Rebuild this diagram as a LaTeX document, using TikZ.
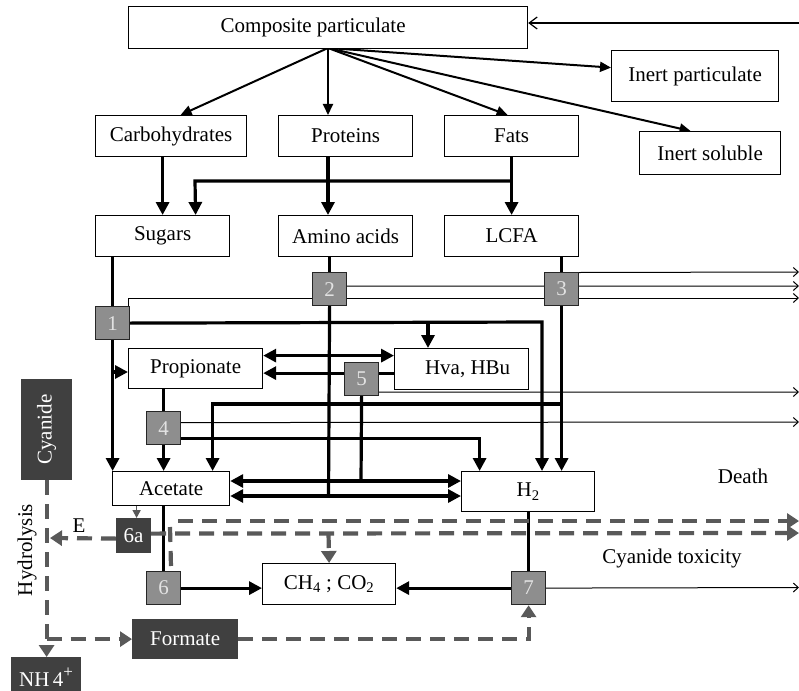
\documentclass[tikz,border=0pt]{standalone}
\usepackage{fontspec}
\setmainfont{Liberation Serif}
\usetikzlibrary{arrows.meta,calc}
\pgfdeclarelayer{bg}
\pgfsetlayers{bg,main}
\definecolor{numfill}{HTML}{8E8E8E}
\definecolor{darkfill}{HTML}{404040}
\definecolor{dashcol}{HTML}{595959}
\definecolor{numtext}{HTML}{E2E2E2}
\begin{document}
\begin{tikzpicture}[x=1pt,y=-1pt,
  font=\fontsize{21}{25}\selectfont,
  box/.style={draw, line width=1.2pt, fill=white, inner sep=0pt, anchor=north west},
  numbox/.style={draw=black!85, fill=numfill, line width=1.2pt, inner sep=0pt,
    minimum width=34pt, minimum height=33pt, text=numtext, anchor=north west},
  darkbox/.style={draw=black!75, fill=darkfill, line width=1.2pt, inner sep=0pt,
    text=white, anchor=north west},
  thk/.style={line width=3.2pt},
  thka/.style={line width=3.2pt, -{Triangle[length=13pt,width=13pt]}},
  thkaa/.style={line width=3.2pt, {Triangle[length=13pt,width=13pt]}-{Triangle[length=13pt,width=13pt]}},
  toparr/.style={line width=2pt, -{Triangle[length=11pt,width=10pt]}},
  thinarr/.style={line width=1pt, -{Straight Barb[length=5pt,width=9pt]}},
  dsh/.style={draw=dashcol, line width=4.2pt, dash pattern=on 15pt off 9pt},
  dsha/.style={dsh, -{Triangle[length=12pt,width=15pt]}, color=dashcol},
  lbl/.style={inner sep=0pt}
]
\useasboundingbox (0,0) rectangle (799,690);

% ---------- boxes ----------
\node[box, minimum width=399pt, minimum height=42pt] (comp) at (128,6) {\hspace*{-30pt}Composite particulate};
\node[box, minimum width=167pt, minimum height=51pt] (inpart) at (611,50) {Inert particulate};
\node[box, minimum width=141pt, minimum height=43pt] (insol) at (639,131) {Inert soluble};
\node[box, minimum width=151pt, minimum height=41pt] (carb) at (95,115) {Carbohydrates};
\node[box, minimum width=134pt, minimum height=41pt] (prot) at (278,115) {Proteins};
\node[box, minimum width=134pt, minimum height=41pt] (fats) at (444,115) {Fats};
\node[box, minimum width=134pt, minimum height=41pt] (sugars) at (95,215) {Sugars};
\node[box, minimum width=134pt, minimum height=41pt] (amino) at (278,215) {Amino acids};
\node[box, minimum width=134pt, minimum height=41pt] (lcfa) at (444,215) {LCFA};
\node[box, minimum width=134pt, minimum height=40pt] (prop) at (128,348) {Propionate};
\node[box, minimum width=134pt, minimum height=41pt] (hva) at (394,348) {\hspace*{12pt}Hva, HBu};
\node[box, minimum width=117pt, minimum height=34pt] (acet) at (112,471) {Acetate};
\node[box, minimum width=133pt, minimum height=40pt] (htwo) at (461,471) {H\textsubscript{2}};
\node[box, minimum width=133pt, minimum height=41pt] (ch4) at (262,563) {CH\textsubscript{4} ; CO\textsubscript{2}};

\node[numbox] (b1) at (95,306) {1};
\node[numbox] (b2) at (312,272) {2};
\node[numbox] (b3) at (544,272) {3};
\node[numbox] (b4) at (146,411) {4};
\node[numbox] (b5) at (344,362) {5};
\node[numbox] (b6) at (146,571) {6};
\node[numbox] (b7) at (511,571) {7};

\node[darkbox, minimum width=34pt, minimum height=34pt] (b6a) at (116,518) {6a};
\node[darkbox, minimum width=50pt, minimum height=100pt] (cyan) at (21,379) {};
\node[rotate=90, text=white, lbl] (cyantext) at (cyan.center) {Cyanide};
\node[darkbox, minimum width=105pt, minimum height=39pt] (formate) at (132,619) {Formate};
\node[darkbox, minimum width=69pt, minimum height=40pt] (nh4) at (11,657) {NH\,4\raisebox{9pt}{\fontsize{17}{17}\selectfont +}};

% ---------- labels ----------
\node[lbl] (lE) at (79,526) {E};
\node[lbl, rotate=90] (lhyd) at (27,550) {Hydrolysis};
\node[lbl] (ldeath) at (743,476) {Death};
\node[lbl] (ltox) at (672,558) {Cyanide toxicity};

% ---------- coordinates ----------
\coordinate (apex) at (328,48);
\coordinate (topin) at (799,23);
\coordinate (fj) at (511,181);
\coordinate (fs) at (195,181);
\coordinate (c1) at (542,322);
\coordinate (c1h) at (428,322);
\coordinate (re1) at (799,298);
\coordinate (re2) at (799,286);
\coordinate (re3) at (799,272);
\coordinate (re4) at (799,392);
\coordinate (re5) at (799,422);
\coordinate (re6) at (799,587.5);
\coordinate (l4) at (561,404);
\coordinate (j2) at (328.5,496);
\coordinate (j5) at (361,481);
\coordinate (pa) at (112,372);
\coordinate (hl) at (50,538);
\coordinate (dup) at (178,521);
\coordinate (dupe) at (799,521);
\coordinate (dlo) at (799,533);
\coordinate (dj) at (328.5,533);
\coordinate (d6) at (170,527);

\begin{pgfonlayer}{bg}
\fill[white] (0,0) rectangle (799,690);
% top level
\draw[thinarr, line width=1.2pt, -{Straight Barb[length=8pt,width=12pt]}] (topin) -- (comp.east |- topin);
\draw[toparr] (apex) -- ([xshift=9.5pt]carb.north);
\draw[toparr] (apex) -- (apex |- prot.north);
\draw[toparr] (apex) -- ([xshift=-4pt]fats.north);
\draw[toparr] (apex) -- ([yshift=8.5pt]inpart.west);
\draw[toparr] (apex) -- ([xshift=-19.5pt]insol.north);

% hydrolysis
\draw[thka] (carb.south -| sugars.north) -- (sugars.north);
\draw[thka] (apex |- prot.south) -- (apex |- amino.north);
\draw[thka] (fats.south) -- (lcfa.north);
\draw[thka] (fj) -- (fs) -- ([xshift=33pt]sugars.north);

% sugars / box 1
\draw[thk] (sugars.south -| b1.north) -- (b1.north);
\draw[thka] (b1.south) -- (b1.south |- acet.north);
\draw[thka] (pa) -- (pa -| prop.west);
\draw[thka] (b1.east) -- (c1) -- (c1 |- htwo.north);
\draw[thka] (c1h) -- (c1h |- hva.north);
\draw[thinarr] ([xshift=-1.5pt]b1.north east) |- (re1);

% amino acids / box 2
\draw[thk] (amino.south -| b2.north) -- (b2.north);
\draw[thinarr] ([yshift=3pt]b2.east) -- (re2);
\draw[thk] (b2.south) -- (j2);
\draw[thka] (j2) -- (j2 -| acet.east);
\draw[thka] (j2) -- (j2 -| htwo.west);
\draw[thkaa] ([yshift=13pt]prop.east) -- ([yshift=13pt]prop.east -| hva.west);

% LCFA / box 3
\draw[thk] (lcfa.south -| b3.north) -- (b3.north);
\draw[thinarr] ([yshift=-0.5pt]b3.north east) -- (re3);
\draw[thka] (b3.south) -- (b3.south |- htwo.north);
\draw[thka] (l4) -| ([xshift=41.5pt]acet.north);

% Hva / box 5
\draw[thka] ([yshift=-4pt]hva.west) -- ([yshift=-4pt]hva.west -| prop.east);
\draw[thinarr] ([yshift=-13pt]b5.east) -- (re4);
\draw[thk] (b5.south) -- (j5);
\draw[thka] (j5) -- (j5 -| acet.east);
\draw[thka] (j5) -- (j5 -| htwo.west);

% propionate / box 4
\draw[thk] (prop.south -| b4.north) -- (b4.north);
\draw[thka] (b4.south) -- (b4.south |- acet.north);
\draw[thinarr] ([yshift=5.5pt]b4.east) -- (re5);
\draw[thka] ([yshift=-10.5pt]b4.east) -| ([xshift=-48.5pt]htwo.north);

% acetate / H2 to methane
\draw[thk] (acet.south -| b6.north) -- (b6.north);
\draw[thka] (b6.east) -- (b6.east -| ch4.west);
\draw[thk] (htwo.south -| b7.north) -- (b7.north);
\draw[thka] (b7.west) -- (b7.west -| ch4.east);
\draw[thinarr] (b7.east) -- (re6);
\draw[dashcol, line width=1.6pt, -{Triangle[length=8pt,width=8pt]}] ([xshift=3pt]b6a.north |- acet.south) -- ([xshift=3pt]b6a.north);

% cyanide (dashed)
\draw[dsha] (cyan.south) -- (cyan.south |- nh4.north);
\draw[dsha] ([yshift=-3pt]b6a.west) -- (hl);
\draw[dsha] (cyan.south |- formate.west) -- (formate.west);
\draw[dsha] (formate.east) -| (b7.south);
\draw[dsha] ([yshift=2pt]b6a.east) -- (dlo);
\draw[dsha] (dup) -- (dupe);
\draw[dsha] (dj) -- (ch4.north);
\draw[dsh] (d6) -- ([xshift=7.5pt]b6.north);
\end{pgfonlayer}
\end{tikzpicture}
\end{document}
